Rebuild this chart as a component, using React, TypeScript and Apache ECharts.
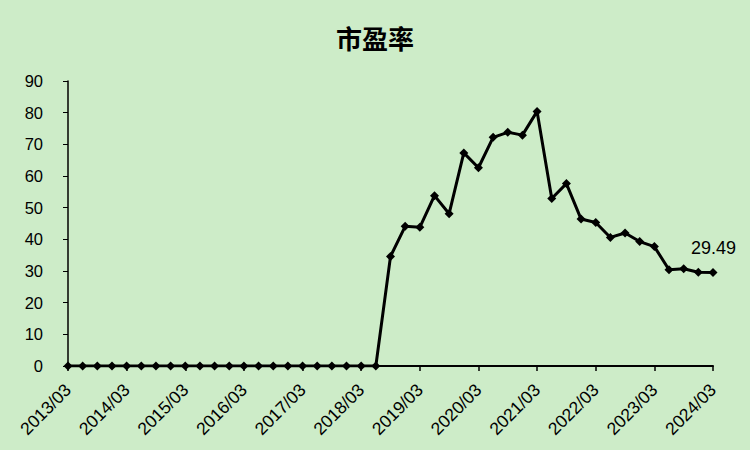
import React, { useEffect, useRef } from "react";
import * as echarts from "echarts";

const categories: string[] = [];
for (let y = 2013; y <= 2024; y++) {
  for (const m of ["03", "06", "09", "12"]) {
    if (y === 2024 && m !== "03") break;
    categories.push(`${y}/${m}`);
  }
}

const peValues = [
  0, 0, 0, 0, 0, 0, 0, 0, 0, 0, 0, 0, 0, 0, 0, 0, 0, 0, 0, 0, 0, 0,
  34.6, 44.1, 43.8, 53.8, 48.1, 67.3, 62.6, 72.2, 73.8, 72.9, 80.4,
  52.9, 57.6, 46.4, 45.3, 40.6, 42.0, 39.3, 37.7, 30.4, 30.7, 29.6, 29.49,
];

const yTicks = [0, 10, 20, 30, 40, 50, 60, 70, 80, 90];

export default function App() {
  const ref = useRef<HTMLDivElement>(null);
  useEffect(() => {
    if (!ref.current) return;
    document.body.style.margin = "0";
    const chart = echarts.init(ref.current, null, { renderer: "svg" });
    const last = peValues.length - 1;
    chart.setOption({
      animation: false,
      backgroundColor: "#cdecc8",
      title: {
        text: "市盈率",
        left: "center",
        top: 19,
        textStyle: {
          fontFamily: "Noto Sans CJK SC",
          fontSize: 26,
          fontWeight: "bold",
          color: "#000",
        },
      },
      grid: { left: 68, right: 37, top: 81, bottom: 84, containLabel: false },
      xAxis: {
        type: "category",
        data: categories,
        boundaryGap: false,
        axisLine: { lineStyle: { color: "#000", width: 2 } },
        axisTick: { interval: 3, length: 5, lineStyle: { color: "#000", width: 1.5 } },
        axisLabel: {
          interval: 3,
          rotate: 45,
          color: "#000",
          fontSize: 17.5,
          fontFamily: "Liberation Sans",
          margin: 21,
        },
        splitLine: { show: false },
      },
      yAxis: {
        type: "value",
        min: yTicks[0],
        max: yTicks[yTicks.length - 1],
        interval: 10,
        axisLine: { show: true, lineStyle: { color: "#000", width: 1.5 } },
        axisTick: { show: true, length: 5, lineStyle: { color: "#000" } },
        axisLabel: {
          color: "#000",
          fontSize: 16.5,
          fontFamily: "Liberation Sans",
          margin: 25,
        },
        splitLine: { show: false },
      },
      series: [
        {
          type: "line",
          data: peValues.map((v, i) =>
            i === last
              ? {
                  value: v,
                  label: {
                    show: true,
                    position: [5, -29],
                    align: "center",
                    formatter: "{c}",
                    color: "#000",
                    fontSize: 18,
                    fontFamily: "Liberation Sans",
                  },
                }
              : v
          ),
          symbol: "diamond",
          symbolSize: 9,
          lineStyle: { color: "#000", width: 3 },
          itemStyle: { color: "#000" },
        },
      ],
    });
    return () => chart.dispose();
  }, []);
  return (
    <div
      ref={ref}
      style={{ position: "fixed", left: 0, top: 0, width: 750, height: 450 }}
    />
  );
}
